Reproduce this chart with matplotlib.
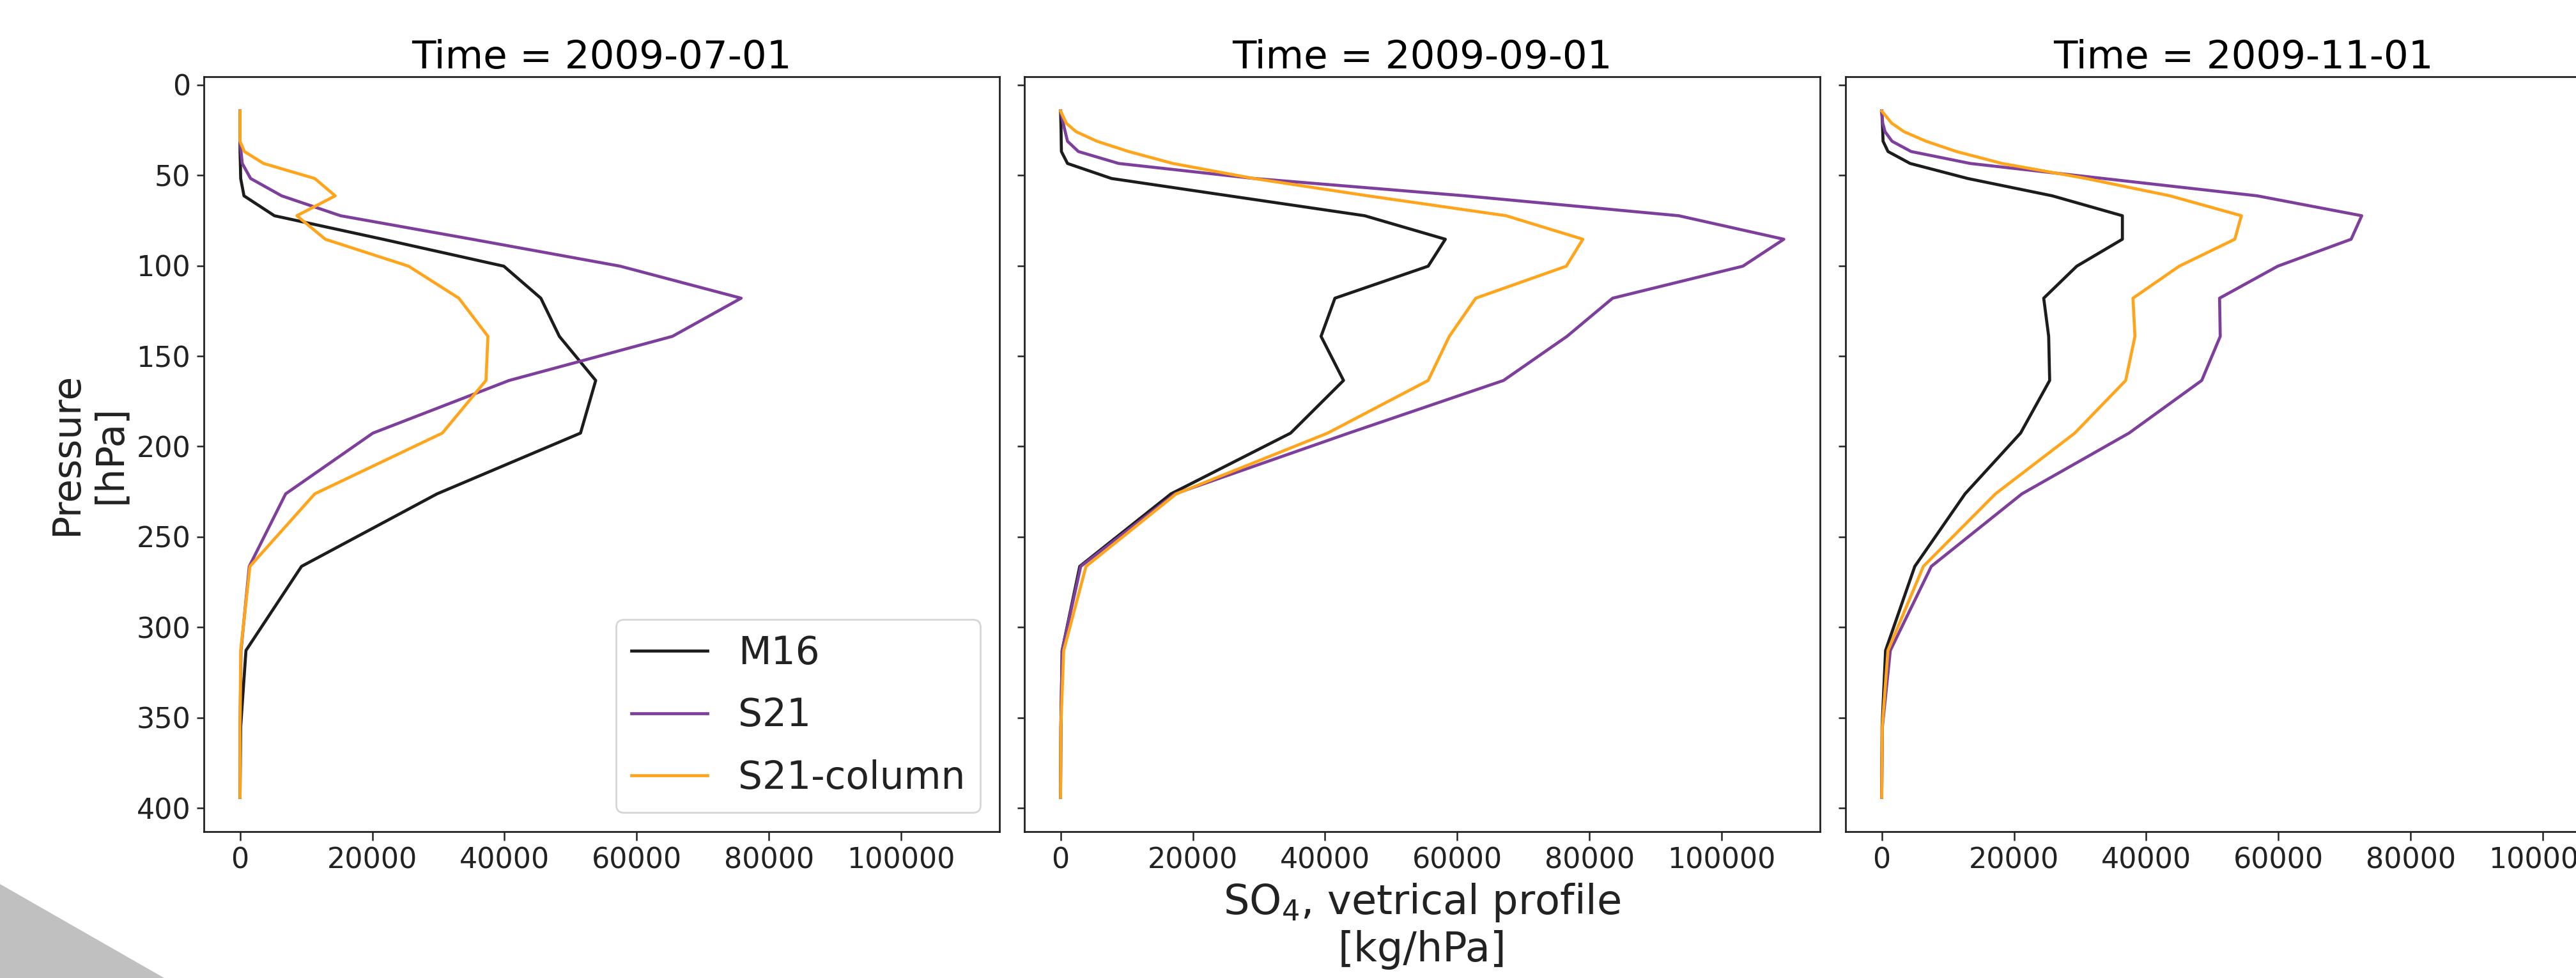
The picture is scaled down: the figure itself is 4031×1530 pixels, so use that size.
import matplotlib
matplotlib.use("Agg")
import matplotlib.pyplot as plt
from matplotlib.patches import Polygon

# ---------------- data ----------------
pressure = [14.5, 21.2, 25.9, 31.2, 36.9, 43.5, 51.8, 61.4, 72.4, 85.4,
            100.3, 118.0, 139.1, 163.5, 192.6, 226.2, 266.3, 312.8, 355.0, 394.0]

dates = ["2009-07-01", "2009-09-01", "2009-11-01"]
series_names = ["M16", "S21", "S21-column"]

m16_jul = [0, 0, 0, 0, 0, 50, 100, 600, 5200, 21600, 39900, 45500, 48300, 53800,
           51500, 29800, 9300, 900, 100, 0]
s21_jul = [0, 0, 0, 0, 150, 340, 1600, 6300, 15200, 35100, 57500, 75800, 65400,
           40700, 20100, 6900, 1400, 150, 0, 0]
s21col_jul = [0, 0, 0, 0, 660, 3570, 11300, 14400, 8600, 12900, 25500, 33100,
              37500, 37200, 30600, 11300, 1500, 100, 0, 0]

m16_sep = [0, 50, 80, 100, 130, 1050, 7700, 25500, 46000, 58200, 55600, 41500,
           39400, 42800, 34800, 16700, 2900, 240, 50, 0]
s21_sep = [0, 400, 700, 1050, 2700, 8800, 29300, 61200, 93500, 109400, 103200,
           83500, 76600, 67000, 43600, 17300, 3050, 240, 50, 0]
s21col_sep = [0, 860, 2340, 5500, 10300, 17000, 29200, 46500, 67400, 79000, 76500,
              62800, 58800, 55600, 40400, 17500, 3850, 480, 50, 0]

m16_nov = [0, 100, 150, 200, 950, 4300, 13000, 25800, 36400, 36400, 29500, 24500,
           25250, 25400, 21000, 12600, 5000, 580, 50, 0]
s21_nov = [0, 150, 500, 1550, 4450, 13400, 33500, 56800, 72600, 71000, 59900,
           51100, 51200, 48400, 37400, 21200, 7500, 1300, 100, 0]
s21col_nov = [0, 1500, 3360, 6700, 11300, 18200, 30900, 43600, 54400, 53400,
              45000, 38000, 38300, 36900, 29200, 17200, 6300, 940, 80, 0]

panel_data = [
    (m16_jul, s21_jul, s21col_jul),
    (m16_sep, s21_sep, s21col_sep),
    (m16_nov, s21_nov, s21col_nov),
]
colors = ["#1c1c1c", "#7d3f9b", "#ffa51c"]

# ---------------- figure ----------------
W, H, DPI = 4031, 1530, 200
fig = plt.figure(figsize=(W / DPI, H / DPI), dpi=DPI)

bottom = (H - 1301) / H
height = (1301 - 120) / H
width = 1245 / W
lefts = [319 / W, 1603 / W, 2888 / W]

axes = []
for i, l in enumerate(lefts):
    if i == 0:
        ax = fig.add_axes([l, bottom, width, height])
    else:
        ax = fig.add_axes([l, bottom, width, height], sharex=axes[0], sharey=axes[0])
    axes.append(ax)

for ax, d, data in zip(axes, dates, panel_data):
    for vals, name, c in zip(data, series_names, colors):
        ax.plot(vals, pressure, color=c, lw=1.7, label=name)
    ax.set_title(f"Time = {d}", fontsize=22, pad=4.5)
    for s in ax.spines.values():
        s.set_linewidth(1.0)
        s.set_color("#222222")
    ax.tick_params(axis="x", labelsize=16, length=5, width=0.9, colors="#222222")
    ax.tick_params(axis="y", labelsize=16, length=4, width=0.9, colors="#222222")

axes[0].invert_yaxis()
axes[0].set_xticks([0, 20000, 40000, 60000, 80000, 100000])
axes[0].set_yticks([0, 50, 100, 150, 200, 250, 300, 350, 400])
for ax in axes[1:]:
    ax.tick_params(axis="y", labelleft=False)

axes[0].set_ylabel("Pressure\n[hPa]", fontsize=21.5, color="#222222")
axes[1].set_xlabel("SO$_4$, vetrical profile\n[kg/hPa]", fontsize=23, color="#222222")

leg = axes[0].legend(loc="lower right", fontsize=21.5, labelspacing=0.65)
for t in leg.get_texts():
    t.set_color("#222222")

# grey corner artifact present in the reference image
tri = Polygon([[0, 0], [0, (H - 1383) / H], [257 / W, 0]], closed=True,
              transform=fig.transFigure, facecolor="#c0c0c0", edgecolor="none")
fig.add_artist(tri)

fig.savefig("out.png", dpi=DPI)
